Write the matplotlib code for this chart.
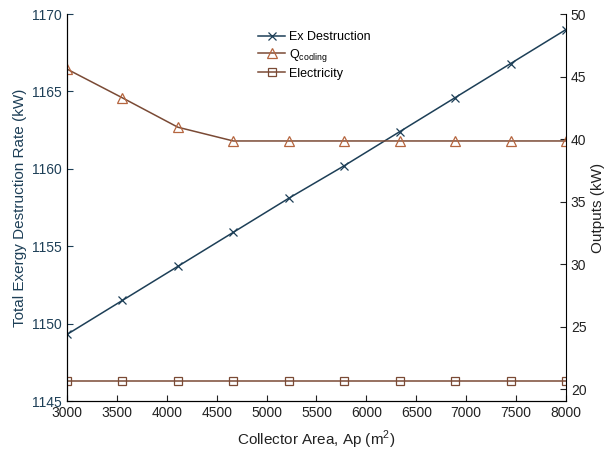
import numpy as np
import matplotlib.pyplot as plt

plt.rcParams['font.family'] = ['Liberation Sans', 'DejaVu Sans']
plt.rcParams['mathtext.fontset'] = 'custom'
plt.rcParams['mathtext.rm'] = 'Liberation Sans'

# data
area = [3000, 3555.6, 4111.1, 4666.7, 5222.2, 5777.8, 6333.3, 6888.9, 7444.4, 8000]
ex_destruction = [1149.3, 1151.5, 1153.7, 1155.9, 1158.1, 1160.2, 1162.4, 1164.6, 1166.8, 1169.0]
q_cooling = [45.6, 43.3, 40.95, 39.85, 39.85, 39.85, 39.85, 39.85, 39.85, 39.85]
electricity = [20.62, 20.62, 20.62, 20.62, 20.62, 20.62, 20.62, 20.62, 20.62, 20.62]

blue = '#1d3f57'
line_brown = '#7a4a35'
mark_orange = '#b5653f'

fig = plt.figure(figsize=(6.05, 4.54), dpi=100)
ax1 = fig.add_axes([0.1107, 0.1167, 0.8248, 0.8523])
ax2 = ax1.twinx()

l1, = ax1.plot(area, ex_destruction, color=blue, lw=1.1, marker='x', ms=6,
               mew=0.9, label='Ex Destruction')
l2, = ax2.plot(area, q_cooling, color=line_brown, lw=1.1, marker='^', ms=7,
               mfc='none', mec=mark_orange, mew=0.9, label=r'Q$_{\rm cooling}$')
l3, = ax2.plot(area, electricity, color=line_brown, lw=1.1, marker='s', ms=6,
               mfc='none', mec=line_brown, mew=0.9, label='Electricity')

ax1.set_xlim(3000, 8000)
ax1.set_ylim(1145, 1170)
ax2.set_ylim(19.05, 50)
ax1.set_xticks(np.arange(3000, 8001, 500))
ax1.set_yticks(np.arange(1145, 1171, 5))
ax2.set_yticks(np.arange(20, 51, 5))

for ax in (ax1, ax2):
    ax.spines['top'].set_visible(False)
ax1.spines['right'].set_visible(False)
ax1.tick_params(direction='in', length=4, labelsize=10, width=0.8)
ax1.tick_params(axis='y', colors=blue)
ax1.tick_params(axis='x', colors='#222222')
ax2.tick_params(direction='in', length=4, labelsize=10, width=0.8, colors='#222222')

ax1.set_xlabel('Collector Area, Ap (m$^2$)', fontsize=11, color='#222222', labelpad=6)
ax1.set_ylabel('Total Exergy Destruction Rate (kW)', fontsize=11, color=blue)
ax2.set_ylabel('Outputs (kW)', fontsize=11, color='#222222')
ax2.yaxis.set_label_coords(1.05, 0.5)

ax2.legend(handles=[l1, l2, l3], loc='upper left', bbox_to_anchor=(0.36, 0.985),
           frameon=False, fontsize=9, handlelength=2.2, handletextpad=0.3,
           labelspacing=0.3)

plt.savefig('out.png', dpi=100)
